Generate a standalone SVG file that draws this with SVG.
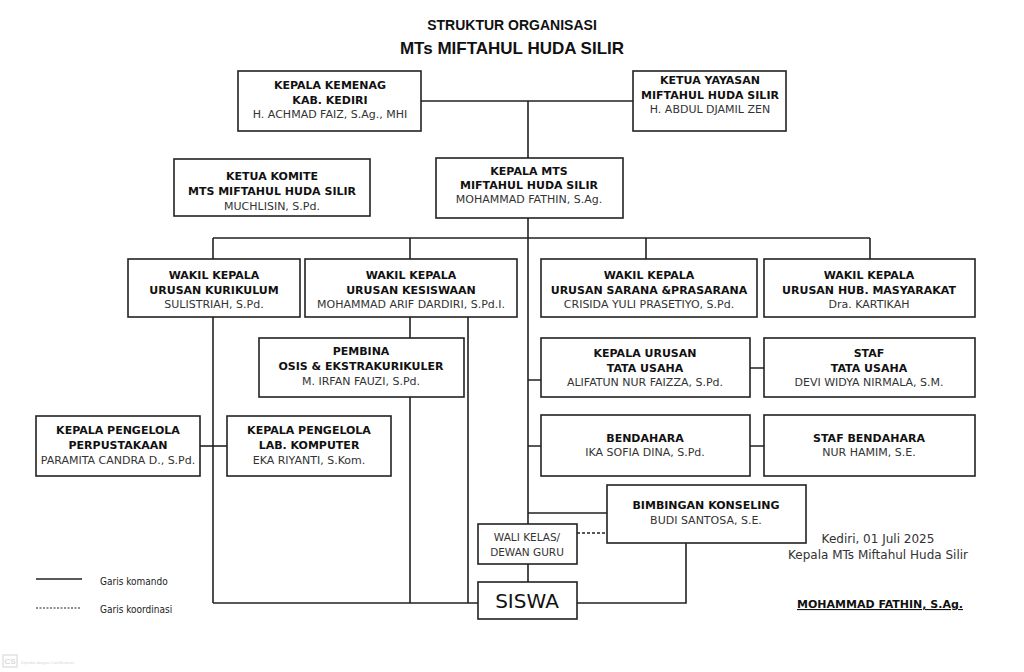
<svg xmlns="http://www.w3.org/2000/svg" width="1024" height="672" viewBox="0 0 1024 672">
<style>
.bg{fill:#fff}
.box{fill:#fff;stroke:#222;stroke-width:1.6}
.ln{fill:none;stroke:#222;stroke-width:1.6}
.dash{fill:none;stroke:#222;stroke-width:1.4;stroke-dasharray:3 2}
.t{font-family:"DejaVu Sans",sans-serif;font-size:11px;fill:#111;text-anchor:middle}
.b{font-weight:bold;font-size:11px}
.n{fill:#333}
.title{font-family:"Liberation Sans",Arial,sans-serif;font-weight:bold;fill:#111;text-anchor:middle}
.s{font-family:"DejaVu Sans Condensed","DejaVu Sans",sans-serif;font-size:10px;fill:#222}
.w{font-size:10.5px}
.big{font-size:20px}
.sig{font-size:12px}
</style>
<rect class="bg" x="0" y="0" width="1024" height="672"/>
<text class="title" x="512" y="30" font-size="14">STRUKTUR ORGANISASI</text>
<text class="title" x="512" y="54" font-size="17">MTs MIFTAHUL HUDA SILIR</text>

<g id="connectors">
<path class="ln" d="M421 101H633M528 101V158"/>
<path class="ln" d="M528 218V524M528 564V582"/>
<path class="ln" d="M213 238H870M213 238V259M410 238V259M646 238V259M870 238V259"/>
<path class="ln" d="M213 317V603M468 317V603M410 317V338M410 397V603M213 603H478"/>
<path class="ln" d="M200 446H227"/>
<path class="ln" d="M528 380H541M750 368H764M528 446H541M750 446H764M528 513H607"/>
<path class="ln" d="M577 603H686V543"/>
<path class="dash" d="M577 533H607"/>
</g>

<g id="kemenag"><rect class="box" x="238" y="71" width="183" height="60"/>
<text class="t b" x="330" y="89">KEPALA KEMENAG</text><text class="t b" x="330" y="104">KAB. KEDIRI</text><text class="t n" x="330" y="118">H. ACHMAD FAIZ, S.Ag., MHI</text></g>

<g id="yayasan"><rect class="box" x="633" y="71" width="153" height="60"/>
<text class="t b" x="710" y="84">KETUA YAYASAN</text><text class="t b" x="710" y="99">MIFTAHUL HUDA SILIR</text><text class="t n" x="710" y="113">H. ABDUL DJAMIL ZEN</text></g>

<g id="komite"><rect class="box" x="174" y="159" width="196" height="57"/>
<text class="t b" x="272" y="180">KETUA KOMITE</text><text class="t b" x="272" y="195">MTS MIFTAHUL HUDA SILIR</text><text class="t n" x="272" y="210">MUCHLISIN, S.Pd.</text></g>

<g id="kepala-mts"><rect class="box" x="436" y="158" width="187" height="60"/>
<text class="t b" x="529" y="175">KEPALA MTS</text><text class="t b" x="529" y="189">MIFTAHUL HUDA SILIR</text><text class="t n" x="529" y="203">MOHAMMAD FATHIN, S.Ag.</text></g>

<g id="waka-kurikulum"><rect class="box" x="128" y="259" width="172" height="58"/>
<text class="t b" x="214" y="279">WAKIL KEPALA</text><text class="t b" x="214" y="294">URUSAN KURIKULUM</text><text class="t n" x="214" y="308">SULISTRIAH, S.Pd.</text></g>

<g id="waka-kesiswaan"><rect class="box" x="305" y="259" width="212" height="58"/>
<text class="t b" x="411" y="279">WAKIL KEPALA</text><text class="t b" x="411" y="294">URUSAN KESISWAAN</text><text class="t n" x="411" y="308">MOHAMMAD ARIF DARDIRI, S.Pd.I.</text></g>

<g id="waka-sarana"><rect class="box" x="541" y="259" width="216" height="58"/>
<text class="t b" x="649" y="279">WAKIL KEPALA</text><text class="t b" x="649" y="294">URUSAN SARANA &amp;PRASARANA</text><text class="t n" x="649" y="308">CRISIDA YULI PRASETIYO, S.Pd.</text></g>

<g id="waka-humas"><rect class="box" x="764" y="259" width="211" height="58"/>
<text class="t b" x="869" y="279">WAKIL KEPALA</text><text class="t b" x="869" y="294">URUSAN HUB. MASYARAKAT</text><text class="t n" x="869" y="308">Dra. KARTIKAH</text></g>

<g id="pembina"><rect class="box" x="259" y="338" width="205" height="59"/>
<text class="t b" x="361" y="355">PEMBINA</text><text class="t b" x="361" y="370">OSIS &amp; EKSTRAKURIKULER</text><text class="t n" x="361" y="385">M. IRFAN FAUZI, S.Pd.</text></g>

<g id="tata-usaha"><rect class="box" x="541" y="338" width="209" height="59"/>
<text class="t b" x="645" y="357">KEPALA URUSAN</text><text class="t b" x="645" y="372">TATA USAHA</text><text class="t n" x="645" y="386">ALIFATUN NUR FAIZZA, S.Pd.</text></g>

<g id="staf-tu"><rect class="box" x="764" y="338" width="211" height="59"/>
<text class="t b" x="869" y="357">STAF</text><text class="t b" x="869" y="372">TATA USAHA</text><text class="t n" x="869" y="386">DEVI WIDYA NIRMALA, S.M.</text></g>

<g id="perpustakaan"><rect class="box" x="36" y="416" width="164" height="60"/>
<text class="t b" x="118" y="434">KEPALA PENGELOLA</text><text class="t b" x="118" y="449">PERPUSTAKAAN</text><text class="t n" x="118" y="464">PARAMITA CANDRA D., S.Pd.</text></g>

<g id="lab-komputer"><rect class="box" x="227" y="416" width="164" height="60"/>
<text class="t b" x="309" y="434">KEPALA PENGELOLA</text><text class="t b" x="309" y="449">LAB. KOMPUTER</text><text class="t n" x="309" y="464">EKA RIYANTI, S.Kom.</text></g>

<g id="bendahara"><rect class="box" x="541" y="415" width="209" height="61"/>
<text class="t b" x="645" y="442">BENDAHARA</text><text class="t n" x="645" y="456">IKA SOFIA DINA, S.Pd.</text></g>

<g id="staf-bendahara"><rect class="box" x="764" y="415" width="211" height="61"/>
<text class="t b" x="869" y="442">STAF BENDAHARA</text><text class="t n" x="869" y="456">NUR HAMIM, S.E.</text></g>

<g id="bk"><rect class="box" x="607" y="485" width="199" height="58"/>
<text class="t b" x="706" y="509">BIMBINGAN KONSELING</text><text class="t n" x="706" y="524">BUDI SANTOSA, S.E.</text></g>

<g id="wali-kelas"><rect class="box" x="478" y="524" width="99" height="40"/>
<text class="t n w" x="527" y="541">WALI KELAS/</text><text class="t n w" x="527" y="556">DEWAN GURU</text></g>

<g id="siswa"><rect class="box" x="478" y="582" width="99" height="37"/>
<text class="t big" x="527" y="608">SISWA</text></g>

<g id="legend">
<path class="ln" d="M36 579H82"/>
<path class="dash" d="M36 608H80" style="stroke-dasharray:2 1.5;stroke-width:1.2"/>
<text class="s" x="100" y="585">Garis komando</text>
<text class="s" x="100" y="613">Garis koordinasi</text>
</g>

<g id="signature">
<text class="t n sig" x="878" y="543">Kediri, 01 Juli 2025</text>
<text class="t n sig" x="878" y="559">Kepala MTs Miftahul Huda Silir</text>
<text class="t b" x="880" y="608" text-decoration="underline">MOHAMMAD FATHIN, S.Ag.</text>
</g>

<g id="watermark" opacity="0.35">
<rect x="3" y="655" width="14" height="12" fill="none" stroke="#888" stroke-width="1"/>
<text x="10" y="664" font-family="Liberation Sans,sans-serif" font-size="8" fill="#666" text-anchor="middle">CS</text>
<text x="21" y="664" font-family="Liberation Sans,sans-serif" font-size="4" fill="#888">Dipindai dengan CamScanner</text>
</g>
</svg>
